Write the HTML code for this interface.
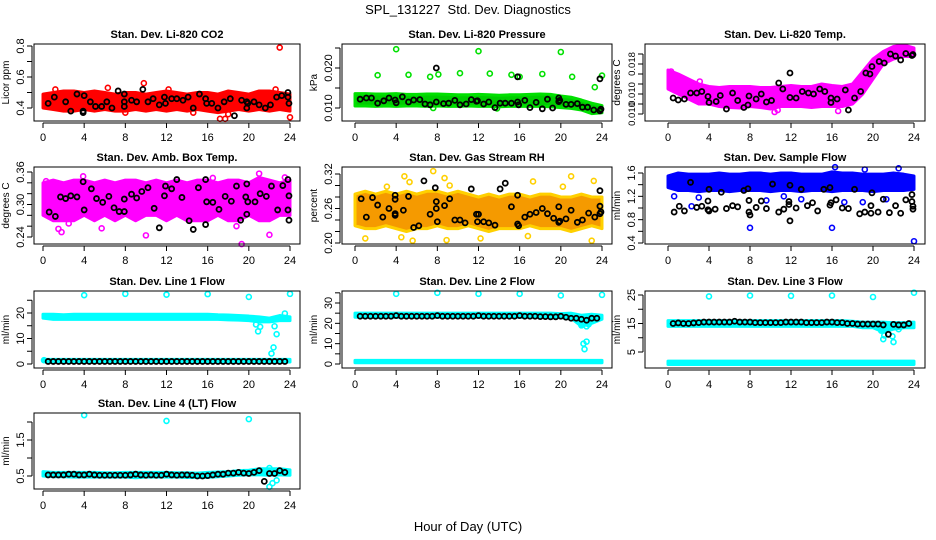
<!DOCTYPE html>
<html><head><meta charset="utf-8"><title>SPL_131227 Std. Dev. Diagnostics</title>
<style>
html,body{margin:0;padding:0;background:#fff;}
svg{display:block;font-family:"Liberation Sans",sans-serif;}
</style></head>
<body>
<svg id="chart" width="936" height="540" viewBox="0 0 936 540" xmlns="http://www.w3.org/2000/svg">
<text x="468" y="14" text-anchor="middle" font-size="13">SPL_131227&#160; Std. Dev. Diagnostics</text>
<text x="468" y="531" text-anchor="middle" font-size="13">Hour of Day (UTC)</text>
</svg>
<script>
const hourly=[0,1,2,3,4,5,6,7,8,9,10,11,12,13,14,15,16,17,18,19,20,21,22,23,24];
const flowHours=[0.5,1,1.5,2,2.5,3,3.5,4,4.5,5,5.5,6,6.5,7,7.5,8,8.5,9,9.5,10,10.5,11,11.5,12,12.5,13,13.5,14,14.5,15,15.5,16,16.5,17,17.5,18,18.5,19,19.5,20,20.5,21,21.5,22,22.5,23,23.5];
const xTicks=[0,4,8,12,16,20,24];

const co2Lo=[0.40,0.39,0.38,0.38,0.39,0.38,0.39,0.38,0.38,0.39,0.38,0.39,0.38,0.39,0.38,0.39,0.38,0.37,0.38,0.39,0.38,0.39,0.38,0.39,0.38];
const co2Hi=[0.49,0.50,0.51,0.51,0.50,0.51,0.50,0.49,0.50,0.50,0.49,0.50,0.51,0.50,0.49,0.50,0.50,0.49,0.51,0.50,0.49,0.51,0.51,0.50,0.49];
const co2Out=[[9.8,0.56],[6.3,0.53],[1.2,0.52],[23.0,0.79],[24,0.34],[17.2,0.33],[17.7,0.33],[18,0.36],[8,0.37],[14.6,0.37],[12.2,0.52],[22.6,0.52]];
const co2Blk=[[0.5,0.43],[1.1,0.47],[2.2,0.44],[2.7,0.38],[3.3,0.49],[3.9,0.37],[3.9,0.38],[4,0.48],[4.6,0.44],[5.1,0.41],[5.7,0.41],[6.2,0.44],[6.7,0.40],[7.3,0.51],[7.9,0.49],[7.9,0.44],[7.9,0.41],[8.6,0.45],[9.1,0.44],[9.7,0.52],[10.2,0.44],[10.7,0.46],[11.3,0.42],[11.8,0.47],[11.9,0.43],[12.5,0.46],[13,0.46],[13.6,0.45],[14.1,0.47],[14.6,0.40],[15.2,0.49],[15.8,0.46],[15.9,0.43],[16.4,0.43],[17,0.40],[17.6,0.44],[18.2,0.46],[18.6,0.35],[19.3,0.45],[19.8,0.44],[19.8,0.40],[19.9,0.43],[20.5,0.44],[21,0.42],[21.6,0.40],[22.1,0.42],[22.7,0.47],[23.2,0.48],[23.8,0.50],[23.8,0.47],[23.9,0.43]];

const prLo=[0.0105,0.0105,0.0104,0.0105,0.0104,0.0105,0.0105,0.0104,0.0105,0.0104,0.0104,0.0105,0.0104,0.0104,0.0103,0.0104,0.0104,0.0104,0.0104,0.0103,0.0101,0.0099,0.0095,0.0086,0.0088];
const prHi=[0.0136,0.0136,0.0135,0.0135,0.0136,0.0134,0.0134,0.0135,0.0135,0.0134,0.0133,0.0133,0.0134,0.0133,0.0132,0.0133,0.0133,0.0134,0.0135,0.0134,0.0130,0.0127,0.0120,0.0112,0.0106];
const prOut=[[4,0.0247],[12,0.0242],[20,0.0240],[2.2,0.0182],[5.2,0.0183],[7.3,0.0178],[8.1,0.0184],[10.2,0.0187],[13.1,0.0186],[15.2,0.0183],[16,0.0178],[18.2,0.0185],[21.1,0.0178],[23.3,0.0152],[24,0.0181],[7.6,0.0100],[13.8,0.0099]];
const prBlk=[[0.5,0.0122],[1.1,0.0125],[1.6,0.0125],[2.2,0.0112],[2.8,0.0118],[3.3,0.0125],[3.9,0.0120],[4,0.0113],[4.6,0.0128],[5.2,0.0115],[5.7,0.0120],[6.3,0.0121],[6.8,0.0110],[7.3,0.0108],[7.9,0.0200],[7.9,0.0115],[8.6,0.0111],[9.1,0.0112],[9.7,0.0119],[10.2,0.0108],[10.8,0.0110],[11.3,0.0121],[11.8,0.0117],[11.9,0.0118],[12.5,0.0110],[13,0.0115],[13.6,0.0101],[14.1,0.0112],[14.6,0.0112],[15.2,0.0112],[15.8,0.0178],[15.8,0.0115],[15.9,0.0108],[16.5,0.0119],[17,0.0101],[17.6,0.0114],[18.2,0.0098],[18.7,0.0122],[19.2,0.0100],[19.8,0.0125],[19.8,0.0116],[19.9,0.0119],[20.5,0.0109],[21,0.0109],[21.6,0.0111],[22.1,0.0102],[22.6,0.0102],[23.2,0.0095],[23.8,0.0173],[23.8,0.0093],[23.9,0.0097]];

const tmLo=[0.0130,0.0120,0.0110,0.0100,0.0100,0.0095,0.0093,0.0092,0.0095,0.0093,0.0090,0.0095,0.0095,0.0095,0.0093,0.0095,0.0095,0.0095,0.0100,0.0120,0.0150,0.0180,0.0190,0.0195,0.0195];
const tmHi=[0.0168,0.0160,0.0150,0.0140,0.0135,0.0133,0.0135,0.0135,0.0135,0.0133,0.0133,0.0135,0.0137,0.0135,0.0135,0.0140,0.0137,0.0135,0.0140,0.0165,0.0190,0.0205,0.0215,0.0218,0.0212];
const tmOut=[[3.1,0.0145],[10.4,0.0084],[10.7,0.0088],[16.6,0.0086],[0.3,0.0165]];
const tmBlk=[[0.5,0.0112],[1,0.0108],[1.6,0.0110],[2.2,0.0122],[2.8,0.0122],[3.3,0.0125],[3.9,0.0115],[4,0.0103],[4.7,0.0105],[5.1,0.0117],[5.7,0.0090],[6.3,0.0122],[6.8,0.0107],[7.4,0.0093],[7.8,0.0098],[7.9,0.0116],[8.6,0.0110],[9.1,0.0120],[9.6,0.0104],[10.1,0.0107],[10.8,0.0142],[11.2,0.0130],[11.9,0.0113],[11.9,0.0162],[12.5,0.0112],[13.1,0.0125],[13.7,0.0122],[14.2,0.0120],[14.8,0.0130],[15.3,0.0125],[15.9,0.0112],[15.9,0.0103],[16.5,0.0110],[17.3,0.0128],[17.6,0.0088],[18.2,0.0112],[18.8,0.0125],[19.3,0.0162],[19.7,0.0160],[19.9,0.0175],[20.6,0.0185],[21.1,0.0182],[21.7,0.0200],[22.2,0.0196],[22.7,0.0188],[23.2,0.0201],[23.8,0.0197],[23.9,0.0199]];

const abLo=[0.28,0.27,0.27,0.27,0.28,0.27,0.28,0.27,0.28,0.27,0.28,0.28,0.27,0.28,0.27,0.27,0.27,0.28,0.27,0.27,0.28,0.27,0.27,0.28,0.28];
const abHi=[0.34,0.345,0.34,0.345,0.345,0.34,0.345,0.34,0.345,0.345,0.34,0.345,0.34,0.345,0.34,0.345,0.345,0.34,0.345,0.345,0.34,0.35,0.345,0.34,0.345];
const abOut=[[19.3,0.227],[21,0.357],[10,0.243],[22,0.244],[16.5,0.349],[3.9,0.352],[1.8,0.249],[5.7,0.256],[1.5,0.255],[0.3,0.343],[23.5,0.350],[2.5,0.265],[18.8,0.260]];
const abBlk=[[0.6,0.286],[1.2,0.278],[1.7,0.314],[2.2,0.311],[2.7,0.316],[3.3,0.314],[3.9,0.342],[4,0.290],[4.7,0.329],[5.2,0.311],[5.8,0.304],[6.4,0.315],[6.9,0.294],[7.4,0.287],[7.9,0.287],[7.9,0.310],[8.6,0.319],[9.1,0.312],[9.6,0.324],[10.2,0.331],[10.8,0.293],[11.3,0.257],[11.8,0.316],[11.9,0.334],[12.5,0.329],[13,0.346],[13.5,0.313],[14.2,0.270],[14.6,0.254],[15.1,0.331],[15.8,0.346],[15.8,0.263],[15.9,0.305],[16.5,0.304],[17.1,0.291],[17.7,0.315],[18.3,0.306],[18.8,0.334],[19.2,0.271],[19.7,0.314],[19.8,0.338],[19.8,0.282],[19.9,0.305],[20.6,0.305],[21.1,0.320],[21.7,0.315],[22.2,0.334],[22.8,0.290],[23.3,0.335],[23.8,0.346],[23.8,0.290],[23.9,0.316],[23.9,0.271]];

const rhLo=[0.23,0.225,0.225,0.23,0.225,0.22,0.225,0.225,0.23,0.225,0.225,0.23,0.225,0.22,0.225,0.225,0.225,0.23,0.225,0.225,0.225,0.22,0.225,0.23,0.225];
const rhHi=[0.285,0.29,0.285,0.29,0.285,0.29,0.285,0.29,0.29,0.285,0.29,0.285,0.28,0.285,0.28,0.285,0.285,0.28,0.285,0.285,0.28,0.28,0.285,0.28,0.28];
const rhOut=[[4.8,0.316],[7.6,0.325],[8.7,0.313],[21,0.316],[23.2,0.308],[1,0.208],[4.5,0.210],[8.9,0.205],[23,0.204],[17.3,0.307],[3.1,0.298],[5.6,0.204],[12.2,0.208],[16.8,0.212],[5.3,0.306],[9.2,0.300],[20.2,0.298]];
const rhBlk=[[0.6,0.277],[1.1,0.245],[1.7,0.279],[2.2,0.266],[2.7,0.245],[3.3,0.260],[3.9,0.283],[3.9,0.276],[3.9,0.248],[3.9,0.251],[4.7,0.257],[5.2,0.281],[5.7,0.227],[6.2,0.230],[6.7,0.308],[7.3,0.250],[7.8,0.296],[7.9,0.272],[7.9,0.260],[8.0,0.237],[8.7,0.265],[9.2,0.277],[9.7,0.240],[10.2,0.240],[10.7,0.235],[11.3,0.294],[11.8,0.250],[11.9,0.237],[12,0.250],[12.5,0.237],[13,0.235],[13.6,0.231],[14.1,0.294],[14.6,0.304],[15.2,0.263],[15.8,0.283],[15.8,0.233],[15.9,0.230],[16.5,0.245],[17,0.250],[17.6,0.253],[18.2,0.260],[18.7,0.251],[19.3,0.243],[19.8,0.236],[19.8,0.263],[19.9,0.238],[20.5,0.242],[21,0.257],[21.6,0.236],[22.1,0.240],[22.7,0.252],[23.3,0.245],[23.8,0.264],[23.8,0.291],[23.8,0.251],[23.9,0.254]];

const sfLo=[1.35,1.3,1.3,1.28,1.3,1.3,1.28,1.3,1.3,1.3,1.28,1.3,1.3,1.28,1.3,1.3,1.28,1.3,1.3,1.3,1.28,1.3,1.3,1.3,1.32];
const sfHi=[1.55,1.6,1.58,1.58,1.58,1.6,1.58,1.58,1.6,1.6,1.58,1.6,1.6,1.58,1.58,1.58,1.62,1.6,1.6,1.58,1.58,1.58,1.6,1.58,1.55];
const sfOut=[[8,0.66],[16,0.66],[24,0.43],[16.3,1.70],[22.5,1.68],[19,1.10],[17.2,1.10],[0.6,1.20],[2.3,1.03],[3,1.18],[13,1.15],[9.6,1.13],[11.3,1.20],[19.2,1.66],[21.3,1.15]];
const sfBlk=[[0.6,0.93],[1.1,1.03],[1.6,0.95],[2.2,1.44],[2.8,1.01],[3.3,1.03],[3.9,1.12],[3.9,0.97],[4,1.32],[4,0.95],[4.6,0.98],[5.2,1.27],[5.7,0.99],[6.3,1.04],[6.8,1.02],[7.4,1.30],[7.8,1.33],[7.9,1.13],[7.9,0.93],[8,0.88],[8.6,1.01],[9.1,1.12],[9.6,0.99],[10.2,1.41],[10.8,0.93],[11.3,0.98],[11.8,1.06],[11.8,1.11],[11.9,0.78],[11.9,1.39],[12.5,1.00],[13,1.32],[13.6,1.04],[14.1,1.09],[14.6,0.95],[15.2,1.32],[15.8,1.35],[15.8,1.05],[15.9,1.09],[16.4,1.14],[17,1.00],[17.6,0.99],[18.2,1.32],[18.7,0.90],[19.2,0.93],[19.8,0.91],[19.8,1.04],[19.9,1.26],[20.5,0.93],[21,1.15],[21.6,0.92],[22.2,1.04],[22.7,0.91],[23.2,1.14],[23.8,1.23],[23.8,1.11],[23.9,1.03],[23.9,0.98]];

const l1Lo=[18,17.5,17.5,17.5,17.5,17.5,17.5,17.5,17.5,17.5,17.5,17.5,17.5,17.5,17.5,17.5,17.5,17.5,17.3,17.2,17,16.5,16.5,17,17];
const l1Hi=[19.5,19.5,19.3,19.5,19.5,19.5,19.5,19.5,19.5,19.5,19.5,19.5,19.5,19.5,19.5,19.5,19.5,19.3,19.2,19,18.8,18.5,18,19,18.5];
const l1LowLo=[1,0.8,0.8,0.8,0.8,0.8,0.8,0.8,0.8,0.8,0.8,0.8,0.8,0.8,0.8,0.8,0.8,0.8,0.8,0.8,0.8,0.8,0.8,0.8,0.8];
const l1LowHi=[1.8,1.8,1.8,1.8,1.8,1.8,1.8,1.8,1.8,1.8,1.8,1.8,1.8,1.8,1.8,1.8,1.8,1.8,1.8,1.8,1.8,1.8,1.8,1.8,1.8];
const l1Out=[[4,27],[8,27.5],[12,27.2],[16,27.4],[20,26.3],[24,27.5],[20.7,15.5],[20.9,12.8],[21.1,14.6],[22.2,4.1],[22.4,6.5],[22.5,14.8],[22.7,11.7],[23.5,19.8],[0.1,1.5]];
const l1Blk=[1,1,1,1,1,1,1,1,1,1,1,1,1,1,1,1,1,1,1,1,1,1,1,1,1,1,1,1,1,1,1,1,1,1,1,1,1,1,1,1,1,1,1,1,1,1,1];

const l2Lo=[23,23,23,23,23,23,23,23,23,23,23,23,23,23,23,23,23,23,23,23,22.8,22.5,18.5,20,22];
const l2Hi=[25,25,25,25,25,25,25,25,25,25,25,25,25,25,25,25,25,25,25,25,24.8,25,24,24.5,24];
const l2LowLo=[0.6,0.6,0.6,0.6,0.6,0.6,0.6,0.6,0.6,0.6,0.6,0.6,0.6,0.6,0.6,0.6,0.6,0.6,0.6,0.6,0.6,0.6,0.6,0.6,0.6];
const l2LowHi=[1.8,1.8,1.8,1.8,1.8,1.8,1.8,1.8,1.8,1.8,1.8,1.8,1.8,1.8,1.8,1.8,1.8,1.8,1.8,1.8,1.8,1.8,1.8,1.8,1.8];
const l2Out=[[4,34.5],[8,35],[12,34.5],[16,34.5],[20,33.7],[24,34],[22,19],[22.2,10],[22.3,7.3],[22.5,11],[22.5,18.5],[22.7,19.5]];
const l2Blk=[23.5,23.5,23.5,23.5,23.5,23.5,23.5,23.8,23.5,23.5,23.5,23.5,23.5,23.5,23.5,23.8,23.5,23.5,23.5,23.5,23.5,23.5,23.5,23.8,23.5,23.5,23.5,23.5,23.5,23.5,23.5,23.8,23.5,23.5,23.5,23.3,23.3,23.2,23.2,23.5,23,22.5,22.5,22,21.5,22.5,22.5];

const l3Lo=[14,14,14,14,14,14,14,14,14,14,14,14,14,14,14,14,14,14,14,13.5,13.5,12,13,13.5,13.5];
const l3Hi=[16,16,16,16,16,16,16,16,16,16,16,16,16,16,16,16,16,16,15.8,15.5,15.5,15.5,15.3,15.3,15.5];
const l3LowLo=[0.6,0.6,0.6,0.6,0.6,0.6,0.6,0.6,0.6,0.6,0.6,0.6,0.6,0.6,0.6,0.6,0.6,0.6,0.6,0.6,0.6,0.6,0.6,0.6,0.6];
const l3LowHi=[1.8,1.8,1.8,1.8,1.8,1.8,1.8,1.8,1.8,1.8,1.8,1.8,1.8,1.8,1.8,1.8,1.8,1.8,1.8,1.8,1.8,1.8,1.8,1.8,1.8];
const l3Out=[[4,24.5],[8,24.8],[12,24.7],[16,24.8],[20,24.3],[24,25.8],[20.8,12.5],[21,9.5],[21.1,10.8],[21.9,10.5],[22,8.5],[22.5,13]];
const l3Blk=[15,15.2,15,15,15.2,15.3,15.5,15.5,15.5,15.5,15.5,15.5,15.8,15.5,15.5,15.5,15.3,15.3,15.3,15.3,15.3,15.3,15.5,15.5,15.5,15.5,15.3,15.3,15.3,15.3,15.5,15.5,15.3,15.3,15,15,14.8,14.8,14.8,14.8,14.8,14.5,11.2,14.7,14.5,14.5,15];

const l4Lo=[0.50,0.48,0.48,0.47,0.47,0.47,0.47,0.47,0.47,0.45,0.47,0.47,0.47,0.47,0.46,0.46,0.46,0.48,0.50,0.52,0.53,0.53,0.52,0.53,0.52];
const l4Hi=[0.62,0.60,0.60,0.60,0.60,0.60,0.59,0.59,0.60,0.60,0.60,0.60,0.60,0.59,0.59,0.58,0.60,0.61,0.62,0.65,0.66,0.70,0.70,0.70,0.67];
const l4Out=[[4,2.19],[12,2.03],[20,2.08],[22,0.20],[22.3,0.30],[22.7,0.38],[22,0.72]];
const l4Blk=[0.53,0.53,0.53,0.53,0.55,0.55,0.53,0.53,0.55,0.53,0.52,0.52,0.52,0.52,0.52,0.52,0.53,0.55,0.53,0.52,0.53,0.52,0.52,0.55,0.53,0.52,0.53,0.53,0.52,0.50,0.50,0.51,0.53,0.55,0.55,0.58,0.58,0.60,0.58,0.57,0.60,0.65,0.35,0.57,0.57,0.65,0.60];

const NS='http://www.w3.org/2000/svg';
const svg=document.getElementById('chart');
function el(tag,parent,attrs){const e=document.createElementNS(NS,tag);for(const k in attrs)e.setAttribute(k,attrs[k]);parent.appendChild(e);return e;}

const panels=[
 {id:'co2',title:'Stan. Dev. Li-820 CO2',ylab:'Licor ppm',box:[34,44,300,121],x0:43,x24:290,ref:[0.4,108,0.8,46],ticks:[0.4,0.5,0.6,0.7,0.8],lab:[[0.4,'0.4'],[0.6,'0.6'],[0.8,'0.8']],col:'#ff0000',fill:'#ff0000',lo:co2Lo,hi:co2Hi,out:co2Out,blk:co2Blk},
 {id:'pressure',title:'Stan. Dev. Li-820 Pressure',ylab:'kPa',box:[342,44,612,121],x0:355,x24:602,ref:[0.010,108,0.020,68],ticks:[0.010,0.015,0.020,0.025],lab:[[0.010,'0.010'],[0.020,'0.020']],col:'#00e000',fill:'#00cc00',lo:prLo,hi:prHi,out:prOut,blk:prBlk},
 {id:'temp',title:'Stan. Dev. Li-820 Temp.',ylab:'degrees C',box:[645,44,925,121],x0:668,x24:914,ref:[0.008,114,0.018,64],ticks:[0.008,0.010,0.012,0.014,0.016,0.018,0.020],lab:[[0.008,'0.010'],[0.012,'0.010'],[0.018,'0.018']],col:'#ff00ff',fill:'#ff00ff',lo:tmLo,hi:tmHi,out:tmOut,blk:tmBlk,fs:9.5},
 {id:'ambbox',title:'Stan. Dev. Amb. Box Temp.',ylab:'degrees C',box:[34,167,300,244],x0:43,x24:290,ref:[0.36,172,0.24,237],ticks:[0.24,0.26,0.28,0.30,0.32,0.34,0.36],lab:[[0.24,'0.24'],[0.30,'0.30'],[0.36,'0.36']],col:'#ff00ff',fill:'#ff00ff',lo:abLo,hi:abHi,out:abOut,blk:abBlk},
 {id:'rh',title:'Stan. Dev. Gas Stream RH',ylab:'percent',box:[342,167,612,244],x0:355,x24:602,ref:[0.32,174,0.20,243],ticks:[0.20,0.22,0.24,0.26,0.28,0.30,0.32],lab:[[0.20,'0.20'],[0.26,'0.26'],[0.32,'0.32']],col:'#ffd000',fill:'#f59a00',lo:rhLo,hi:rhHi,out:rhOut,blk:rhBlk},
 {id:'sampleflow',title:'Stan. Dev. Sample Flow',ylab:'ml/min',box:[645,167,925,244],x0:668,x24:914,ref:[1.6,173,0.4,243],ticks:[0.4,0.6,0.8,1.0,1.2,1.4,1.6],lab:[[0.4,'0.4'],[0.8,'0.8'],[1.2,'1.2'],[1.6,'1.6']],col:'#0000ff',fill:'#0000ff',lo:sfLo,hi:sfHi,out:sfOut,blk:sfBlk},
 {id:'line1',title:'Stan. Dev. Line 1 Flow',ylab:'ml/min',box:[34,291,300,368],x0:43,x24:290,ref:[0,364,20,313],ticks:[0,5,10,15,20,25],lab:[[0,'0'],[10,'10'],[20,'20']],col:'#00ffff',fill:'#00ffff',lo:l1Lo,hi:l1Hi,lo2:l1LowLo,hi2:l1LowHi,out:l1Out,blkV:l1Blk},
 {id:'line2',title:'Stan. Dev. Line 2 Flow',ylab:'ml/min',box:[342,291,612,368],x0:355,x24:602,ref:[0,364,30,303],ticks:[0,5,10,15,20,25,30,35],lab:[[0,'0'],[10,'10'],[20,'20'],[30,'30']],col:'#00ffff',fill:'#00ffff',lo:l2Lo,hi:l2Hi,lo2:l2LowLo,hi2:l2LowHi,out:l2Out,blkV:l2Blk},
 {id:'line3',title:'Stan. Dev. Line 3 Flow',ylab:'ml/min',box:[645,291,925,368],x0:668,x24:914,ref:[5,352,25,295],ticks:[5,10,15,20,25],lab:[[5,'5'],[15,'15'],[25,'25']],col:'#00ffff',fill:'#00ffff',lo:l3Lo,hi:l3Hi,lo2:l3LowLo,hi2:l3LowHi,out:l3Out,blkV:l3Blk},
 {id:'line4',title:'Stan. Dev. Line 4 (LT) Flow',ylab:'ml/min',box:[34,413,300,489],x0:43,x24:290,ref:[0.5,476,1.5,440],ticks:[0.5,1.0,1.5,2.0],lab:[[0.5,'0.5'],[1.5,'1.5']],col:'#00ffff',fill:'#00ffff',lo:l4Lo,hi:l4Hi,out:l4Out,blkV:l4Blk}
];

function band(g,p,xs,ys,lo,hi,name){
  let pts=[];
  for(let i=0;i<hourly.length;i++)pts.push(xs(hourly[i])+','+ys(hi[i]));
  for(let i=hourly.length-1;i>=0;i--)pts.push(xs(hourly[i])+','+ys(lo[i]));
  const b=el('polygon',g,{points:pts.join(' '),fill:p.fill,stroke:p.col,'stroke-width':3,'stroke-linejoin':'round'});
  
  
}
function dot(g,x,y,c,w,name){
  const d=el('circle',g,{cx:x,cy:y,r:2.5,fill:'none',stroke:c,'stroke-width':w});
  
  
}

panels.forEach(p=>{
  const g=el('g',svg,{});
  
  
  const [bx0,by0,bx1,by1]=p.box;
  const xs=h=>p.x0+(p.x24-p.x0)*h/24;
  const [v1,p1,v2,p2]=p.ref;
  const ys=v=>p1+(v-v1)*(p2-p1)/(v2-v1);
  const t=el('text',g,{x:(bx0+bx1)/2,y:by0-6,'text-anchor':'middle','font-size':11,'font-weight':'bold'});
  t.textContent=p.title;
  
  
  const cg=el('g',g,{});
  
  
  band(cg,p,xs,ys,p.lo,p.hi,'data-cloud');
  if(p.lo2)band(cg,p,xs,ys,p.lo2,p.hi2,'low-data-cloud');
  p.out.forEach(o=>dot(cg,xs(o[0]),ys(o[1]),p.col,1.6,'outlier-point'));
  if(p.blk)p.blk.forEach(o=>dot(cg,xs(o[0]),ys(o[1]),'#000',1.8,'black-point'));
  if(p.blkV)p.blkV.forEach((v,i)=>dot(cg,xs(flowHours[i]),ys(v),'#000',1.8,'black-point'));
  const r=el('rect',g,{x:bx0,y:by0,width:bx1-bx0,height:by1-by0,fill:'none',stroke:'#000','stroke-width':1});
  
  
  const xa=el('g',g,{});
  
  
  el('line',xa,{x1:xs(0),x2:xs(24),y1:by1+2,y2:by1+2,stroke:'#000'});
  xTicks.forEach(h=>{
    el('line',xa,{x1:xs(h),x2:xs(h),y1:by1+2,y2:by1+7,stroke:'#000'});
    const tl=el('text',xa,{x:xs(h),y:by1+20,'text-anchor':'middle','font-size':11});
    tl.textContent=h;
    
    
  });
  const ya=el('g',g,{});
  
  
  const tv=p.ticks;
  el('line',ya,{x1:bx0-2,x2:bx0-2,y1:ys(tv[0]),y2:ys(tv[tv.length-1]),stroke:'#000'});
  tv.forEach(v=>el('line',ya,{x1:bx0-7,x2:bx0-2,y1:ys(v),y2:ys(v),stroke:'#000'}));
  const fs=p.fs||11;
  p.lab.forEach(l=>{
    const yy=ys(l[0]);
    const tl=el('text',ya,{x:bx0-10,y:yy,'text-anchor':'middle','font-size':fs,transform:'rotate(-90 '+(bx0-10)+' '+yy+')'});
    tl.textContent=l[1];
    
    
  });
  const cy=(by0+by1)/2, lx=bx0-25;
  const yl=el('text',g,{x:lx,y:cy,'text-anchor':'middle','font-size':10,transform:'rotate(-90 '+lx+' '+cy+')'});
  yl.textContent=p.ylab;
  
  
});
</script>
</body></html>
